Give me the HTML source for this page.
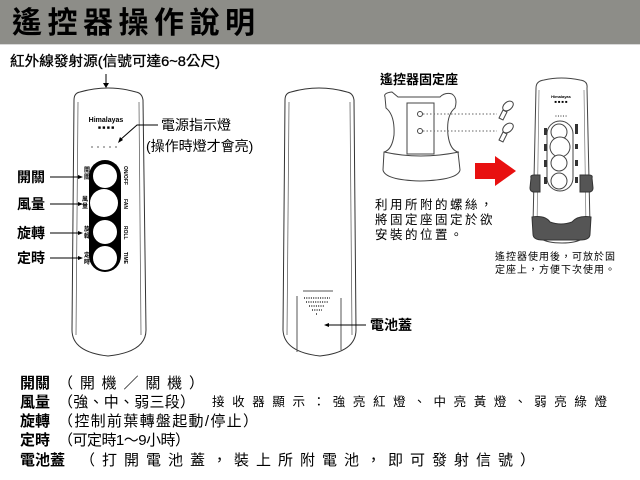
<!DOCTYPE html>
<html><head><meta charset="utf-8"><style>
html,body{margin:0;padding:0;background:#fff;width:640px;height:480px;overflow:hidden}
svg{display:block}
text{font-family:"Liberation Sans","Noto Sans CJK TC",sans-serif;fill:#000}
</style></head><body>
<svg width="640" height="480" viewBox="0 0 640 480">
<rect x="0" y="0" width="640" height="44" fill="#8d8d88"/>
<line x1="0" y1="44.5" x2="640" y2="44.5" stroke="#d8d8d8" stroke-width="1"/>
<text x="12" y="33" font-size="30" font-weight="bold" textLength="243" lengthAdjust="spacing">遙控器操作說明</text>

<text x="10" y="66" font-size="14" textLength="210" lengthAdjust="spacingAndGlyphs" stroke="#000" stroke-width="0.3">紅外線發射源(信號可達6~8公尺)</text>
<line x1="106" y1="74" x2="106" y2="85" stroke="#000"/>
<polygon points="103,83 109,83 106,88" fill="#000"/>

<!-- remote 1 -->
<path d="M74,100 Q74,93 80,92 Q108,84 136,92 Q142,93 143,100 L146,330 Q146,352 108,356 Q72,352 72,330 Z" fill="#fff" stroke="#333" stroke-width="1"/>
<path d="M78,102 L76,335 M139,102 L141,335" stroke="#666" stroke-width="0.8" fill="none"/>
<text x="106" y="122" font-size="7" font-weight="bold" text-anchor="middle">Himalayas</text>
<text x="106" y="129" font-size="5" text-anchor="middle">■ ■ ■ ■</text>
<g fill="#999"><circle cx="92" cy="147" r="1"/><circle cx="98" cy="147" r="1"/><circle cx="104" cy="147" r="1"/><circle cx="110" cy="147" r="1"/><circle cx="116" cy="147" r="1"/></g>
<rect x="89" y="160" width="32" height="112" rx="16" fill="#000"/>
<circle cx="105" cy="176" r="12" fill="#fff"/>
<circle cx="104" cy="203" r="14" fill="#fff"/>
<circle cx="105" cy="232" r="12" fill="#fff"/>
<circle cx="105" cy="258" r="12" fill="#fff"/>
<g font-size="6" font-weight="bold"><text x="84" y="172">開</text><text x="84" y="179">關</text><text x="82" y="201">風</text><text x="82" y="208">量</text><text x="84" y="231">旋</text><text x="84" y="238">轉</text><text x="84" y="257">定</text><text x="84" y="264">時</text></g>
<g font-size="5" font-weight="bold"><text transform="translate(124,166) rotate(90)">ON/OFF</text><text transform="translate(124,199) rotate(90)">FAN</text><text transform="translate(124,226) rotate(90)">ROLL</text><text transform="translate(124,252) rotate(90)">TIME</text></g>

<g font-size="14" font-weight="bold">
<text x="17" y="182">開關</text><text x="17" y="209">風量</text><text x="17" y="238">旋轉</text><text x="17" y="263">定時</text></g>
<g stroke="#000"><line x1="50" y1="177" x2="80" y2="177"/><line x1="50" y1="204" x2="80" y2="204"/><line x1="50" y1="233" x2="80" y2="233"/><line x1="50" y1="258" x2="80" y2="258"/></g>
<g fill="#000"><polygon points="78,175 83,177 78,179"/><polygon points="78,202 83,204 78,206"/><polygon points="78,231 83,233 78,235"/><polygon points="78,256 83,258 78,260"/></g>

<text x="161" y="130" font-size="14">電源指示燈</text>
<text x="146" y="151" font-size="14">(操作時燈才會亮)</text>
<polyline points="158,125 137,125 120,140" fill="none" stroke="#000"/>
<polygon points="118,143 120,137 123,140" fill="#000"/>

<!-- remote 2 -->
<path d="M285,100 Q285,93 291,92 Q319,84 347,92 Q353,93 354,100 L356,330 Q356,352 320,356 Q284,352 283,330 Z" fill="#fff" stroke="#333" stroke-width="1"/>
<path d="M289,102 L287,335 M350,102 L352,335" stroke="#666" stroke-width="0.8" fill="none"/>
<path d="M297,296 L297,352 M341,298 L341,350 M303,291 L333,291" stroke="#555" fill="none"/>
<g stroke="#000" stroke-width="1.2" stroke-dasharray="1,1.3">
<line x1="304" y1="298" x2="330" y2="298"/><line x1="306" y1="302" x2="328" y2="302"/><line x1="309" y1="306" x2="325" y2="306"/><line x1="312" y1="310" x2="322" y2="310"/><line x1="316" y1="314" x2="318" y2="314"/></g>
<line x1="327" y1="325" x2="366" y2="325" stroke="#000"/>
<polygon points="324,325 329,323 329,327" fill="#000"/>
<text x="370" y="330" font-size="14" font-weight="bold">電池蓋</text>

<!-- holder -->
<text x="380" y="84" font-size="13" font-weight="bold">遙控器固定座</text>
<path d="M385,97 Q383,93 392,92 L398,97 L440,97 Q445,92 452,94 Q458,98 455,108 Q446,115 448,135 Q450,150 458,152 L460,170 Q458,180 420,181 Q385,180 383,170 L384,152 Q392,150 394,135 Q395,115 386,108 Z" fill="#fff" stroke="#444"/>
<path d="M407,103 L434,103 L434,154 L407,154 Z M384,152 Q420,160 459,152" fill="none" stroke="#444"/>
<circle cx="420" cy="114" r="2.5" fill="#fff" stroke="#444"/>
<circle cx="420" cy="131" r="2.5" fill="#fff" stroke="#444"/>
<g stroke="#666" stroke-dasharray="1.5,2"><line x1="423" y1="114" x2="497" y2="114"/><line x1="423" y1="131" x2="497" y2="131"/></g>
<g fill="#fff" stroke="#444"><ellipse cx="508" cy="106" rx="6" ry="4" transform="rotate(-40 508 106)"/><path d="M503,110 L499,118 L503,120 L507,112 Z"/><ellipse cx="508" cy="128" rx="6" ry="4" transform="rotate(-40 508 128)"/><path d="M503,132 L499,140 L503,142 L507,134 Z"/></g>
<polygon points="475,163 495,163 495,156 516,171 495,186 495,179 475,179" fill="#e81010"/>
<g font-size="12.5" letter-spacing="2.5" fill="#333"><text x="375" y="209">利用所附的螺絲，</text><text x="375" y="224">將固定座固定於欲</text><text x="375" y="239">安裝的位置。</text></g>

<!-- small remote -->
<path d="M536,88 Q536,81 544,80 Q561,76 580,80 Q588,81 587,88 L590,225 Q590,243 562,243 Q533,243 533,225 Z" fill="#fff" stroke="#444"/>
<path d="M539,90 L537,228 M584,90 L586,228" stroke="#777" stroke-width="0.7"/>
<text x="561" y="98" font-size="4" font-weight="bold" text-anchor="middle">Himalayas</text>
<text x="561" y="103" font-size="4" text-anchor="middle">■ ■ ■ ■</text>
<text x="561" y="117" font-size="4" fill="#888" text-anchor="middle">• • • • •</text>
<rect x="547" y="121" width="26" height="70" rx="13" fill="#fff" stroke="#444"/>
<g fill="#fff" stroke="#444"><circle cx="559" cy="132" r="8"/><circle cx="560" cy="147" r="10"/><circle cx="559" cy="163" r="8"/><circle cx="559" cy="181" r="8"/></g>
<g fill="#333"><rect x="544" y="128" width="3" height="7"/><rect x="544" y="144" width="3" height="7"/><rect x="544" y="160" width="3" height="7"/><rect x="544" y="177" width="3" height="7"/><rect x="575" y="124" width="3" height="10"/><rect x="575" y="144" width="3" height="5"/><rect x="575" y="160" width="3" height="6"/><rect x="575" y="177" width="3" height="6"/></g>
<path d="M531,178 Q530,175 534,175 L540,175 L540,192 L533,192 Q530,191 530,188 Z" fill="#555" stroke="#333"/>
<path d="M592,178 Q593,175 589,175 L580,175 L580,192 L590,192 Q593,191 593,188 Z" fill="#555" stroke="#333"/>
<path d="M532,217 Q545,215 550,222 Q561,226 572,222 Q578,215 591,217 L590,234 Q590,240 580,240 L543,240 Q533,240 533,234 Z" fill="#555" stroke="#333"/>
<g font-size="10" fill="#333" letter-spacing="1"><text x="495" y="260">遙控器使用後，可放於固</text><text x="495" y="273">定座上，方便下次使用。</text></g>

<!-- bottom notes -->
<g font-size="15" font-weight="bold">
<text x="20" y="388">開關</text><text x="20" y="407">風量</text><text x="20" y="426">旋轉</text><text x="20" y="445">定時</text><text x="20" y="465">電池蓋</text></g>
<g font-size="15" fill="#333">
<text x="58" y="388" textLength="146" lengthAdjust="spacing">（開機／關機）</text>
<text x="58" y="407" textLength="137" lengthAdjust="spacing">（強、中、弱三段）</text>
<text x="212" y="406" font-size="12.5" textLength="395" lengthAdjust="spacing">接收器顯示：強亮紅燈、中亮黃燈、弱亮綠燈</text>
<text x="58" y="426" textLength="200" lengthAdjust="spacing">（控制前葉轉盤起動/停止）</text>
<text x="58" y="445" textLength="132" lengthAdjust="spacing">（可定時1～9小時）</text>
<text x="80" y="465" textLength="455" lengthAdjust="spacing">（打開電池蓋，裝上所附電池，即可發射信號）</text>
</g>
</svg>
</body></html>
